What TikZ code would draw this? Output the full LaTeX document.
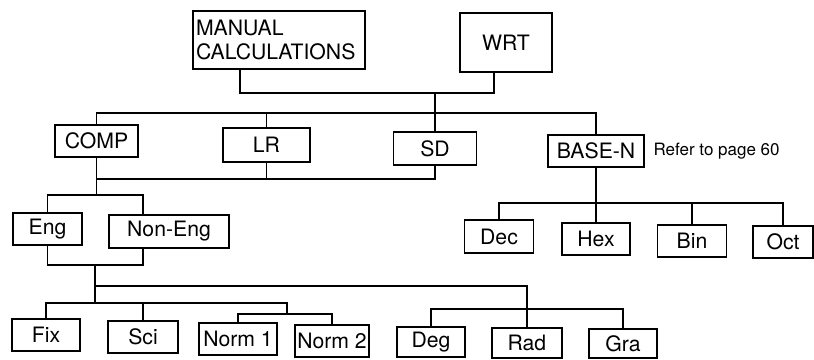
\documentclass[tikz,border=0pt]{standalone}
\usepackage{fontspec}
\setmainfont{TeX Gyre Heros}
\usepackage{tikz}
\usetikzlibrary{positioning, calc}

\begin{document}
\begin{tikzpicture}[x=0.5pt, y=-0.5pt, line width=0.6pt,
    modebox/.style 2 args={draw, minimum width=#1, minimum height=#2, inner sep=0pt,
      font=\fontsize{10.6pt}{12pt}\selectfont},
    notetext/.style={font=\fontsize{8.5pt}{10pt}\selectfont, anchor=west, inner sep=0pt}]
  \useasboundingbox (0,0) rectangle (814,359);

  % top level
  \node[modebox={86pt}{29pt}, text width=83pt, align=left, inner xsep=1.5pt] (manual) at (279,40)
    {MANUAL\\CALCULATIONS};
  \node[modebox={46pt}{29.5pt}] (wrt) at (506,42.5) {WRT};

  % modes
  \node[modebox={41.5pt}{16pt}] (comp) at (96.5,141) {COMP};
  \node[modebox={43.5pt}{17pt}] (lr) at (266.5,145) {LR};
  \node[modebox={41.5pt}{16.5pt}] (sd) at (435,148.5) {SD};
  \node[modebox={48pt}{16pt}] (basen) at (596,151) {BASE-N};
  \node[notetext] (refer) at (653,151) {Refer to page 60};

  \node[modebox={34.5pt}{16pt}] (eng) at (47.5,229) {Eng};
  \node[modebox={60pt}{16.5pt}] (noneng) at (169,231.5) {Non-Eng};

  \node[modebox={34.5pt}{16.5pt}] (dec) at (499,236.5) {Dec};
  \node[modebox={34pt}{16pt}] (hex) at (596,239) {Hex};
  \node[modebox={34.5pt}{16pt}] (bin) at (692,241) {Bin};
  \node[modebox={30pt}{16pt}] (oct) at (783,242) {Oct};

  % display / angle units
  \node[modebox={34pt}{16pt}] (fix) at (46,335) {Fix};
  \node[modebox={35pt}{16pt}] (sci) at (143,337) {Sci};
  \node[modebox={39pt}{16pt}] (norm1) at (238,339) {Norm 1};
  \node[modebox={37pt}{16pt}] (norm2) at (332,341) {Norm 2};
  \node[modebox={34pt}{15pt}] (deg) at (431,342) {Deg};
  \node[modebox={35pt}{15pt}] (rad) at (527,343) {Rad};
  \node[modebox={34pt}{14.5pt}] (gra) at (623,343.5) {Gra};

  % buses
  \coordinate (j0) at (435,93);
  \coordinate (b1) at (0,113);
  \coordinate (b2) at (0,179);
  \coordinate (b3) at (0,195);
  \coordinate (b4) at (0,265);
  \coordinate (j1) at (95,265);
  \coordinate (j3) at (95,286);
  \coordinate (j2) at (95,303);
  \coordinate (j4) at (287,303);
  \coordinate (b5) at (0,314);
  \coordinate (b6) at (0,309);
  \coordinate (b7) at (0,203);

  \draw ([xshift=-19.5pt]manual.south) |- (j0) -| ([xshift=-6pt]wrt.south);
  \draw (j0) -- (sd.north);
  \draw (comp.north) -- (comp.north |- b1) -- (basen.north |- b1) -- (basen.north);
  \draw (lr.north) -- (lr.north |- b1);

  \draw (sd.south) |- (comp.south |- b2);
  \draw (lr.south) -- (lr.south |- b2);
  \draw (comp.south) -- (comp.south |- b3);
  \draw (eng.north) |- ([xshift=-13pt]noneng.north |- b3) -- ([xshift=-13pt]noneng.north);

  \draw (eng.south) |- ([xshift=-13pt]noneng.south |- b4) -- ([xshift=-13pt]noneng.south);
  \draw (j1) -- (j2);
  \draw (j3) -| (rad.north);
  \draw (fix.north) |- (j4) -- (j4 |- b5);
  \draw (sci.north) -- (sci.north |- j4);
  \draw (norm1.north) |- (norm2.north |- b5) -- (norm2.north);
  \draw (deg.north) |- (gra.north |- b6) -- (gra.north);

  \draw (basen.south) -- (hex.north);
  \draw (dec.north) |- (oct.north |- b7) -- (oct.north);
  \draw (bin.north) -- (bin.north |- b7);
\end{tikzpicture}
\end{document}
